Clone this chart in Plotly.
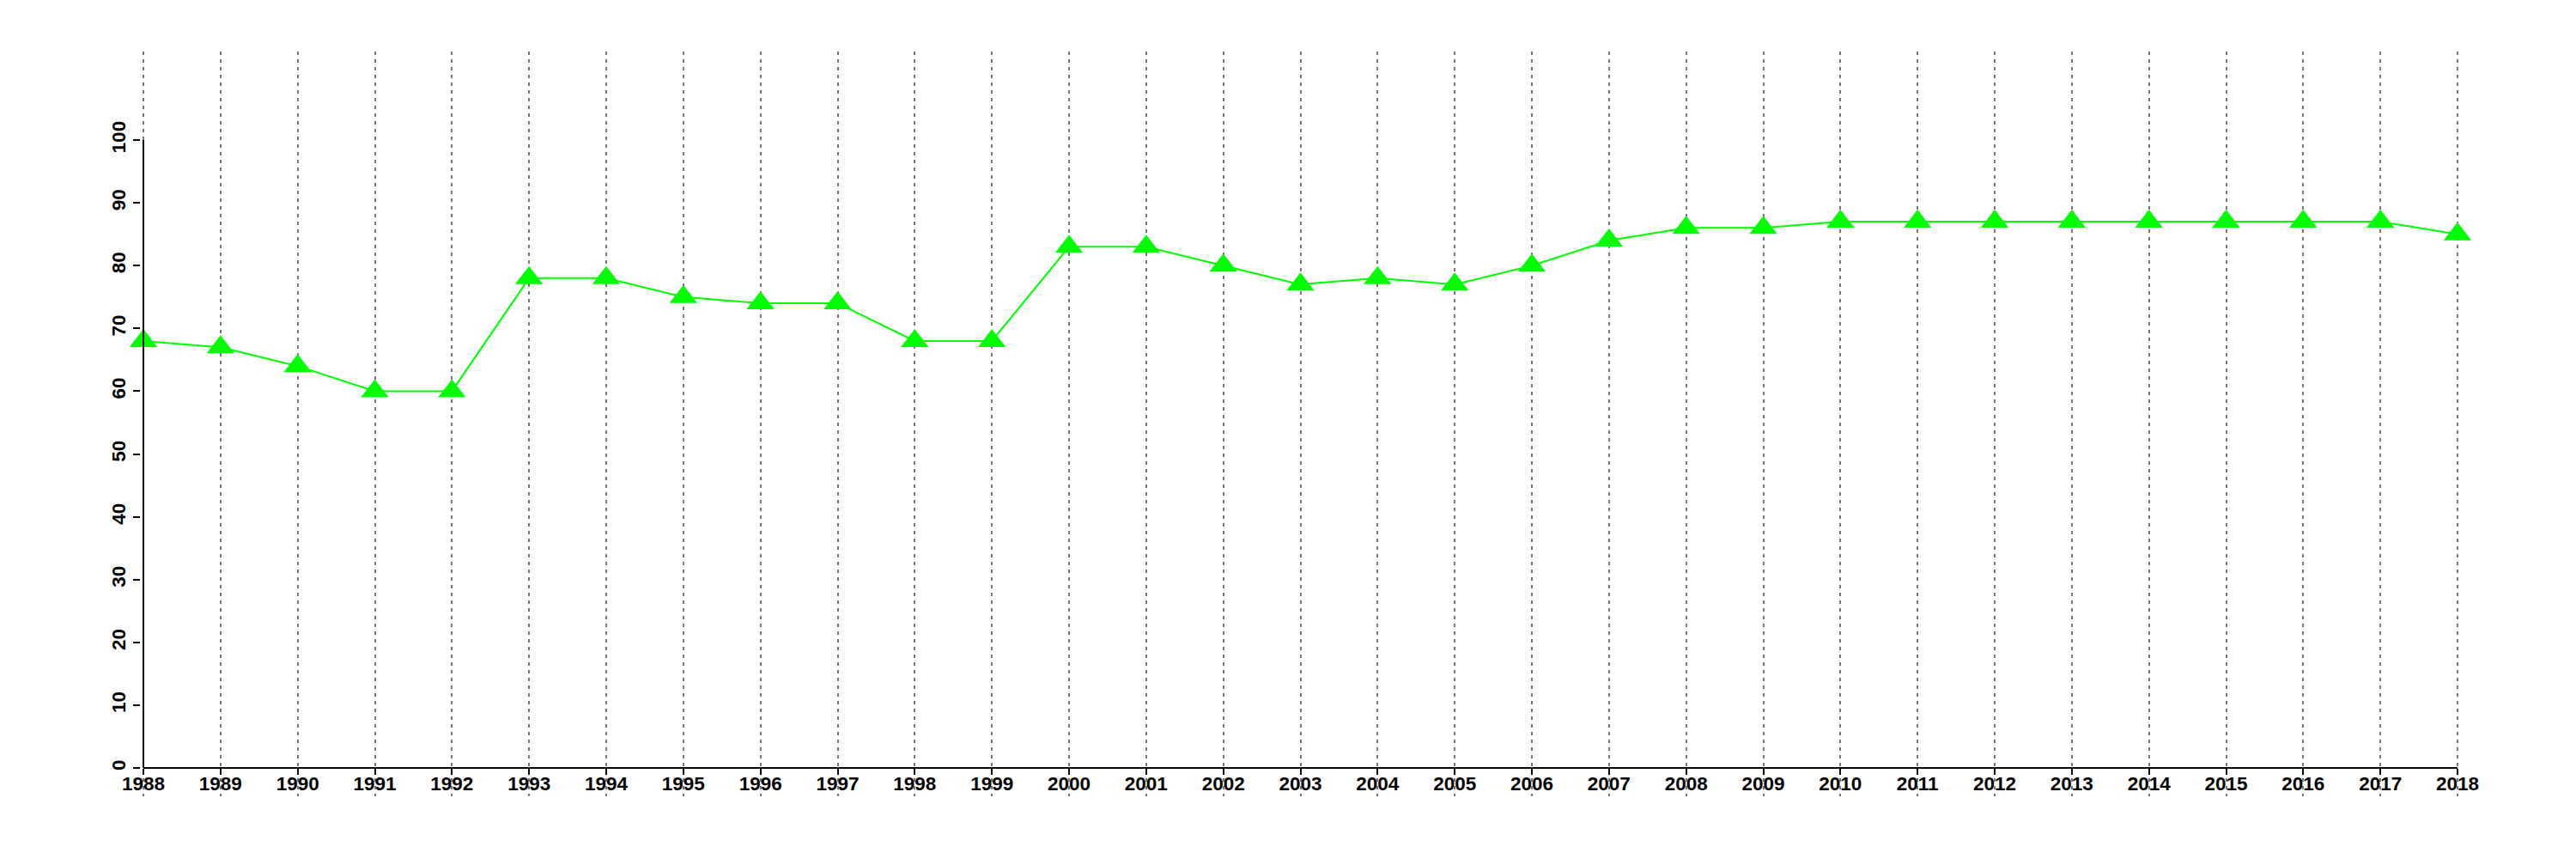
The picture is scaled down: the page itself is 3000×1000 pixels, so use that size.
import plotly.graph_objects as go

years = list(range(1988, 2019))
values = [68, 67, 64, 60, 60, 78, 78, 75, 74, 74, 68, 68, 83, 83, 80, 77, 78, 77, 80, 84,
          86, 86, 87, 87, 87, 87, 87, 87, 87, 87, 85]
y_ticks = list(range(0, 101, 10))

# page body margin shifts the figure by 8px
OFF = 8
W, H = 3000 - OFF, 1000 - OFF
# pixel layout of the reference (figure coordinates)
x_left_px, x_right_px = 167 - OFF, 2862 - OFF
y0_px, y100_px = 894 - OFF, 163 - OFF
top_px, bot_px = 60 - OFF, 927 - OFF
ppu = (y0_px - y100_px) / (y_ticks[-1] - y_ticks[0])
y_lo = -(bot_px - y0_px) / ppu
y_hi = y_ticks[-1] + (y100_px - top_px) / ppu

# pad x range slightly so the edge gridlines are kept
ppy = (x_right_px - x_left_px) / (years[-1] - years[0])
eps = 0.03
dom_l = (x_left_px - eps * ppy) / W
dom_r = (x_right_px + eps * ppy) / W

font = dict(family="Liberation Sans, Arial, sans-serif", size=22.5, color="black", weight="bold")

fig = go.Figure()
fig.add_trace(go.Scatter(
    x=years, y=values, mode="lines+markers",
    line=dict(color="#00ff00", width=2),
    marker=dict(symbol="triangle-up", size=28, color="#00ff00", line=dict(width=0)),
    cliponaxis=False, showlegend=False,
))

fig.add_shape(type="line", xref="x", yref="y",
              x0=years[0], x1=years[0], y0=y_ticks[0], y1=y_ticks[-1],
              line=dict(color="black", width=2), layer="above")
fig.add_shape(type="line", xref="x", yref="y",
              x0=years[0], x1=years[-1], y0=y_ticks[0], y1=y_ticks[0],
              line=dict(color="black", width=2), layer="above")

fig.update_layout(
    template="none",
    width=W, height=H, autosize=False,
    margin=dict(l=0, r=0, t=0, b=0, pad=0),
    paper_bgcolor="white", plot_bgcolor="white",
    font=font,
    xaxis=dict(
        domain=[dom_l, dom_r],
        range=[years[0] - eps, years[-1] + eps],
        tickvals=years, ticktext=[str(y) for y in years],
        tickfont=font, tickangle=0, automargin=False,
        ticks="outside", ticklen=7, tickwidth=2, tickcolor="black",
        ticklabelstandoff=-9,
        showline=False,
        showgrid=True, gridcolor="#777777", gridwidth=2, griddash="4px,5px",
        zeroline=False, anchor="free", position=1 - y0_px / H,
    ),
    yaxis=dict(
        domain=[1 - bot_px / H, 1 - top_px / H],
        range=[y_lo, y_hi],
        tickvals=y_ticks, ticktext=[str(v) for v in y_ticks],
        tickfont=font, tickangle=-90, automargin=False,
        ticks="outside", ticklen=8, tickwidth=2, tickcolor="black",
        showline=False, showgrid=False, zeroline=False,
    ),
)

fig.write_html("out.html")
